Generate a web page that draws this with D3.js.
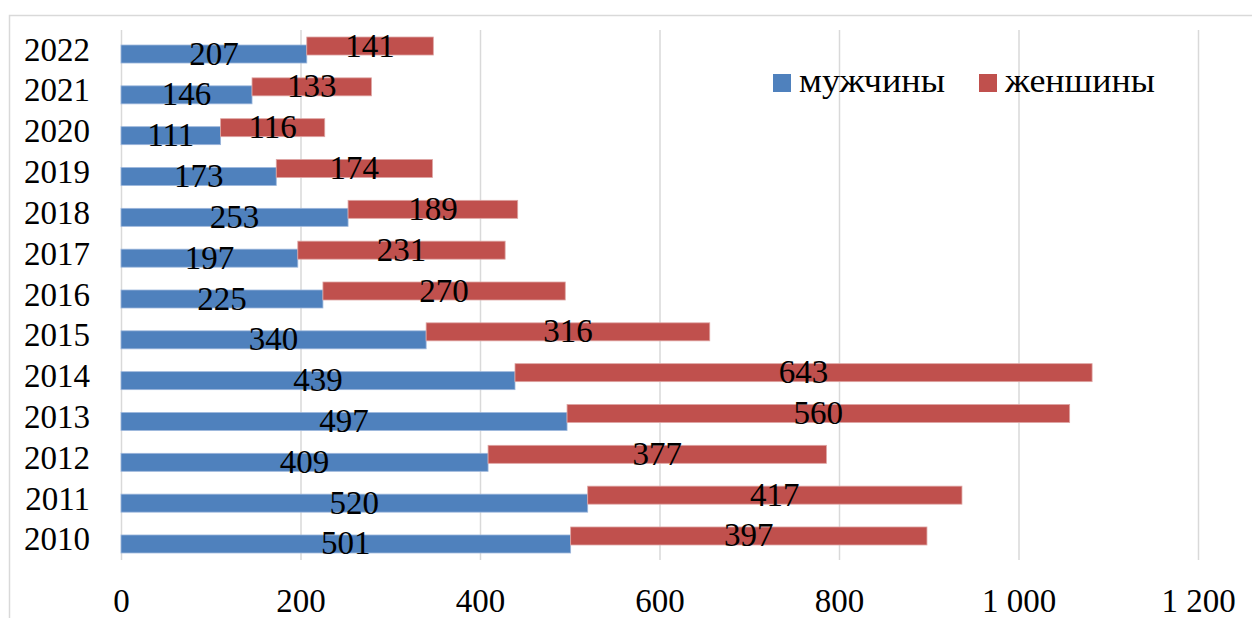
<!DOCTYPE html>
<html><head><meta charset="utf-8">
<script src="https://cdn.jsdelivr.net/npm/d3@7"></script>
<style>
body{margin:0;background:#fff;}
svg{display:block;}
text{font-family:"Liberation Serif","DejaVu Serif",serif;fill:#000;}
</style></head>
<body><svg id="c" width="1252" height="618"></svg>
<script>
const years = [2010,2011,2012,2013,2014,2015,2016,2017,2018,2019,2020,2021,2022];
const men   = [501,520,409,497,439,340,225,197,253,173,111,146,207];
const women = [397,417,377,560,643,316,270,231,189,174,116,133,141];
const xTicks = [0,200,400,600,800,1000,1200];
const seriesNames = ["мужчины","женшины"];
const colors = ["#4F81BD","#C0504D"];

const svg = d3.select("#c");
const FS = 33;
// chart border
svg.append("rect").attr("x",9.5).attr("y",15.5).attr("width",1250).attr("height",620)
  .attr("fill","none").attr("stroke","#d9d9d9").attr("stroke-width",1.5);

const x = d3.scaleLinear().domain([0,1200]).range([121,1198]);
const y = d3.scaleBand().domain(years.slice().reverse()).range([29.6,560.4]).padding(0);
const locale = d3.formatLocale({decimal:",",thousands:"\u00a0",grouping:[3],currency:["",""]});
const fmt = locale.format(",d");

// gridlines
const grid = svg.append("g").attr("transform","translate(0,560)")
  .call(d3.axisBottom(x).tickValues(xTicks).tickSize(-530).tickFormat(""));
grid.select(".domain").remove();
grid.selectAll("line").attr("stroke","#d9d9d9").attr("stroke-width",1.5);

// x axis labels
const xa = svg.append("g").attr("transform","translate(0,612)")
  .call(d3.axisBottom(x).tickValues(xTicks).tickSize(0).tickPadding(0).tickFormat(fmt));
xa.select(".domain").remove();
xa.selectAll("text").attr("dy",0).attr("y",0).style("font-size",FS+"px")
  .style("font-family",'"Liberation Serif",serif');

// y axis labels
const ya = svg.append("g").attr("transform","translate(90,0)")
  .call(d3.axisLeft(y).tickSize(0).tickPadding(0));
ya.select(".domain").remove();
ya.selectAll("text").attr("dy",0).attr("y",10.5).style("font-size",FS+"px")
  .style("font-family",'"Liberation Serif",serif');

const rows = years.map((yr,i)=>({yr, m:men[i], w:women[i]}));
const BH = 18;
const g = svg.append("g");
// men bars
g.selectAll(".m").data(rows).join("rect")
  .attr("x",x(0)).attr("y",d=>y(d.yr)+y.bandwidth()/2-5)
  .attr("width",d=>x(d.m)-x(0)).attr("height",BH)
  .attr("fill",colors[0]).attr("stroke","#9db7dc").attr("stroke-width",0.8);
// women bars
g.selectAll(".w").data(rows).join("rect")
  .attr("x",d=>x(d.m)).attr("y",d=>y(d.yr)+y.bandwidth()/2-13)
  .attr("width",d=>x(d.m+d.w)-x(d.m)).attr("height",BH)
  .attr("fill",colors[1]).attr("stroke","#dea5a3").attr("stroke-width",0.8);
// labels
g.selectAll(".ml").data(rows).join("text")
  .attr("x",d=>(x(0)+x(d.m))/2).attr("y",d=>y(d.yr)+y.bandwidth()/2+4+10.5)
  .attr("text-anchor","middle").style("font-size",FS+"px").text(d=>d.m);
g.selectAll(".wl").data(rows).join("text")
  .attr("x",d=>(x(d.m)+x(d.m+d.w))/2).attr("y",d=>y(d.yr)+y.bandwidth()/2-4+10.5)
  .attr("text-anchor","middle").style("font-size",FS+"px").text(d=>d.w);

// legend
const legX = [773, 979];
const legW = [146, 150];
const lg = svg.append("g");
seriesNames.forEach((n,i)=>{
  lg.append("rect").attr("x",legX[i]).attr("y",74).attr("width",18).attr("height",18).attr("fill",colors[i]);
  lg.append("text").attr("x",legX[i]+26).attr("y",92).style("font-size",FS+"px")
    .attr("textLength",legW[i]).attr("lengthAdjust","spacingAndGlyphs").text(n);
});
</script></body></html>
